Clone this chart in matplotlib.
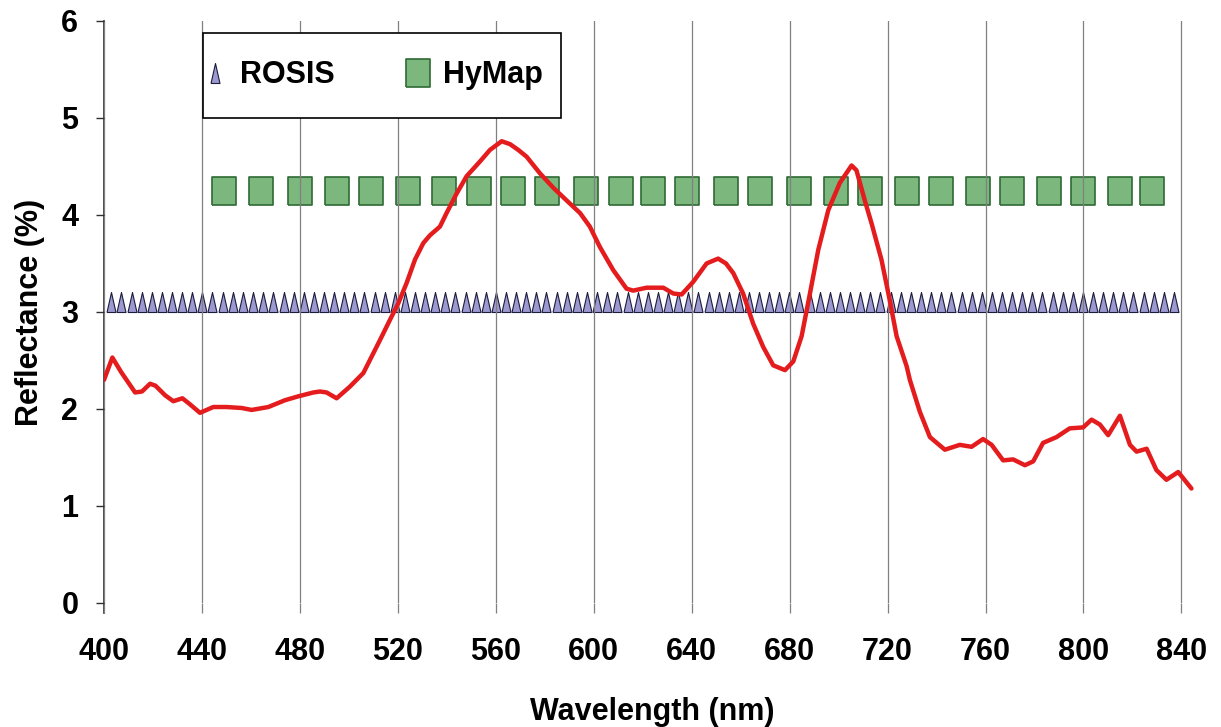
import matplotlib
matplotlib.use("Agg")
import matplotlib.pyplot as plt
from matplotlib.patches import Rectangle

# ---------------- data ----------------
wavelength = [400.0, 403.4, 407.0, 412.7, 415.5, 418.8, 421.0, 425.0, 428.3, 432.0,
              435.0, 439.2, 444.6, 450.0, 456.2, 460.3, 467.1, 473.9, 479.3, 485.5,
              488.2, 490.9, 495.0, 500.4, 505.9, 509.3, 512.7, 516.8, 520.2, 523.6,
              527.0, 530.4, 533.1, 537.2, 539.9, 544.0, 548.1, 553.5, 557.6, 562.4,
              565.8, 569.2, 572.6, 578.0, 583.5, 588.9, 594.4, 598.4, 602.5, 608.0,
              613.4, 616.1, 621.6, 628.4, 632.5, 635.9, 640.6, 646.1, 650.8, 654.0,
              657.0, 661.0, 665.1, 669.2, 673.3, 678.1, 681.5, 684.9, 688.3, 691.7,
              695.8, 700.5, 705.3, 707.3, 710.7, 713.5, 717.5, 720.9, 723.7, 727.8,
              729.1, 733.2, 737.3, 743.4, 749.5, 754.3, 759.0, 762.5, 767.2, 771.3,
              776.1, 779.5, 783.5, 789.0, 794.4, 799.9, 803.3, 806.7, 810.1, 814.9,
              819.0, 821.7, 825.8, 829.8, 833.9, 838.7, 844.1]
reflectance = [2.30, 2.53, 2.38, 2.17, 2.18, 2.26, 2.24, 2.14, 2.08, 2.11,
               2.05, 1.96, 2.02, 2.02, 2.01, 1.99, 2.02, 2.09, 2.13, 2.17,
               2.18, 2.17, 2.11, 2.23, 2.37, 2.54, 2.71, 2.92, 3.09, 3.30,
               3.54, 3.71, 3.79, 3.88, 4.02, 4.22, 4.40, 4.55, 4.67, 4.76,
               4.73, 4.67, 4.60, 4.43, 4.28, 4.15, 4.02, 3.88, 3.67, 3.43,
               3.24, 3.22, 3.25, 3.25, 3.19, 3.18, 3.31, 3.50, 3.55, 3.50,
               3.40, 3.19, 2.88, 2.64, 2.45, 2.40, 2.49, 2.75, 3.19, 3.64,
               4.05, 4.33, 4.51, 4.46, 4.15, 3.91, 3.54, 3.12, 2.75, 2.44,
               2.30, 1.97, 1.71, 1.58, 1.63, 1.61, 1.69, 1.63, 1.47, 1.48,
               1.42, 1.46, 1.65, 1.71, 1.80, 1.81, 1.89, 1.84, 1.73, 1.93,
               1.63, 1.56, 1.59, 1.37, 1.27, 1.35, 1.18]

rosis_bands = [403.0, 407.1, 411.3, 415.4, 419.5, 423.7, 427.8, 431.9, 436.1, 440.2,
               444.3, 448.5, 452.6, 456.7, 460.9, 465.0, 469.1, 473.3, 477.4, 481.5,
               485.7, 489.8, 493.9, 498.1, 502.2, 506.3, 510.5, 514.6, 518.7, 522.9,
               527.0, 531.1, 535.3, 539.4, 543.5, 547.7, 551.8, 555.9, 560.1, 564.2,
               568.3, 572.5, 576.6, 580.7, 584.9, 589.0, 593.1, 597.3, 601.4, 605.5,
               609.7, 613.8, 617.9, 622.1, 626.2, 630.3, 634.5, 638.6, 642.7, 646.9,
               651.0, 655.1, 659.2, 663.4, 667.5, 671.6, 675.8, 679.9, 684.0, 688.2,
               692.3, 696.4, 700.6, 704.7, 708.8, 713.0, 717.1, 721.2, 725.4, 729.5,
               733.6, 737.8, 741.9, 746.0, 750.2, 754.3, 758.4, 762.6, 766.7, 770.8,
               775.0, 779.1, 783.2, 787.4, 791.5, 795.6, 799.8, 803.9, 808.0, 812.2,
               816.3, 820.4, 824.6, 828.7, 832.8, 837.0]
rosis_level = 3.1

hymap_bands = [449, 464, 480, 495, 509, 524, 539, 553, 567, 581, 597, 611, 624, 638,
               654, 668, 684, 699, 713, 728, 742, 757, 771, 786, 800, 815, 828]
hymap_level = 4.25

x_ticks = [400, 440, 480, 520, 560, 600, 640, 680, 720, 760, 800, 840]
y_ticks = [0, 1, 2, 3, 4, 5, 6]

# ---------------- style ----------------
plt.rcParams['font.family'] = ['Liberation Sans', 'DejaVu Sans']
plt.rcParams['font.weight'] = 'bold'
FS = 22

fig = plt.figure(figsize=(12.21, 7.27), dpi=100)
ax = fig.add_axes([0.0852, 0.1706, 0.8984, 0.8006])

tri = [(-0.225, -0.5), (0.225, -0.5), (0.0, 0.5), (-0.225, -0.5)]
sq = [(-0.43, -0.5), (0.43, -0.5), (0.43, 0.5), (-0.43, 0.5), (-0.43, -0.5)]

h_rosis, = ax.plot(rosis_bands, [rosis_level] * len(rosis_bands), linestyle='none',
                   marker=tri, markersize=14.4, markerfacecolor='#9c98d0',
                   markeredgecolor='#1c1c3c', markeredgewidth=0.8, zorder=2,
                   label='ROSIS')
h_hymap, = ax.plot(hymap_bands, [hymap_level] * len(hymap_bands), linestyle='none',
                   marker=sq, markersize=20.2, markerfacecolor='#7cb87e',
                   markeredgecolor='#2d6a35', markeredgewidth=1.2, zorder=2,
                   label='HyMap')
ax.plot(wavelength, reflectance, color='#e41c1e', linewidth=3.2, zorder=3,
        solid_joinstyle='round', solid_capstyle='round')

ax.set_xlim(400, 848)
ax.set_ylim(0, 6)
ax.set_xticks(x_ticks)
ax.set_yticks(y_ticks)

ax.set_axisbelow(False)
ax.grid(axis='x', color='#808080', linewidth=0.9)
ax.grid(axis='y', visible=False)

for s in ['top', 'right', 'bottom']:
    ax.spines[s].set_visible(False)
ax.spines['left'].set_color('#303030')
ax.spines['left'].set_linewidth(1.2)
ax.spines['left'].set_bounds(-0.103, 6)

ax.tick_params(axis='x', direction='out', length=7.2, width=0.9, color='#808080',
               pad=17, labelsize=FS)
ax.tick_params(axis='y', direction='out', length=5.5, width=1.0, color='#303030',
               pad=13, labelsize=FS)
for lab in ax.get_xticklabels() + ax.get_yticklabels():
    lab.set_fontweight('bold')

ax.set_xlabel('Wavelength (nm)', fontsize=FS, fontweight='bold')
ax.set_ylabel('Reflectance (%)', fontsize=FS, fontweight='bold')
ax.xaxis.set_label_coords(0.5, -0.1615)
ax.yaxis.set_label_coords(-0.054, 0.5)

# legend box
rect = Rectangle((0.1663, 0.8377), 0.2932, 0.1169, transform=fig.transFigure,
                 facecolor='white', edgecolor='black', linewidth=1.2,
                 zorder=4, clip_on=False)
ax.add_patch(rect)
leg = ax.legend(handles=[h_rosis, h_hymap], loc='center left',
                bbox_to_anchor=(0.1663, 0.8962), bbox_transform=fig.transFigure,
                frameon=False, ncol=2, borderpad=0.2, borderaxespad=0,
                handlelength=0.4, handletextpad=0.6, columnspacing=2.55,
                numpoints=1, prop={'size': FS, 'weight': 'bold'})
leg.set_zorder(5)

fig.savefig('out.png', dpi=100)
